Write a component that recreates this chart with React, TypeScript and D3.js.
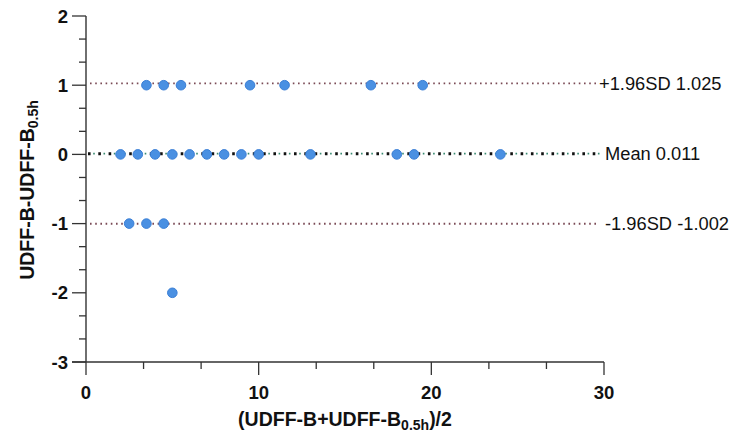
import React from "react";
import * as d3 from "d3";

const upperX = [3.5, 4.5, 5.5, 9.5, 11.5, 16.5, 19.5];
const upperY = [1, 1, 1, 1, 1, 1, 1];
const meanX = [2, 3, 4, 5, 6, 7, 8, 9, 10, 13, 18, 19, 24];
const meanY = [0, 0, 0, 0, 0, 0, 0, 0, 0, 0, 0, 0, 0];
const lowerX = [2.5, 3.5, 4.5, 5];
const lowerY = [-1, -1, -1, -2];

const refValues = [1.025, 0.011, -1.002];
const refLabels = ["+1.96SD 1.025", "Mean 0.011", "-1.96SD -1.002"];
const xTicks = [0, 10, 20, 30];
const yTicks = [2, 1, 0, -1, -2, -3];

const W = 744, H = 438;
const x = d3.scaleLinear().domain([0, 30]).range([86, 604]);
const y = d3.scaleLinear().domain([-3, 2]).range([362, 16]);

const points = [
  ...upperX.map((v, i) => [v, upperY[i]]),
  ...meanX.map((v, i) => [v, meanY[i]]),
  ...lowerX.map((v, i) => [v, lowerY[i]]),
];

export default function App() {
  const xMinor = d3.range(0, 30.01, 10 / 3);
  const yMinor = d3.range(-3, 2.01, 1 / 3);
  const font = "'Liberation Sans', Arial, Helvetica, sans-serif";
  return (
    <svg width={W} height={H} style={{ position: "absolute", left: 0, top: 0, background: "#fff" }} fontFamily={font}>
      {/* reference lines */}
      {refValues.map((v, i) =>
        i === 1 ? (
          <g key={i}>
            <line x1={x(0) + 2} x2={x(30) - 4} y1={y(v)} y2={y(v)} stroke="#3a8a72" strokeWidth={1.6} strokeDasharray="1.6 8.7" strokeDashoffset={-5.2} />
            <line x1={x(0) + 2} x2={x(30) - 4} y1={y(v)} y2={y(v)} stroke="#111" strokeWidth={3} strokeDasharray="2.6 7.7" />
          </g>
        ) : (
          <line key={i} x1={x(0) + 4} x2={x(30) - 6} y1={y(v)} y2={y(v)} stroke="#7a4a55" strokeWidth={1.8} strokeDasharray="1.6 3.6" />
        )
      )}
      {/* points */}
      {points.map((p, i) => (
        <circle key={i} cx={x(p[0])} cy={y(p[1])} r={4.8} fill="#4a90e2" stroke="#3b7fd6" strokeWidth={1} />
      ))}
      {/* axes */}
      <line x1={x(0)} x2={x(0)} y1={y(2)} y2={y(-3)} stroke="#333" strokeWidth={1.4} />
      <line x1={72} x2={x(30)} y1={y(-3)} y2={y(-3)} stroke="#333" strokeWidth={1.4} />
      {yMinor.map((v, i) => {
        const major = Math.abs(v - Math.round(v)) < 1e-6;
        return <line key={i} x1={x(0) - (major ? 14 : 7)} x2={x(0)} y1={y(v)} y2={y(v)} stroke="#333" strokeWidth={1.3} />;
      })}
      {xMinor.map((v, i) => {
        const major = Math.abs(v / 10 - Math.round(v / 10)) < 1e-6;
        return <line key={i} x1={x(v)} x2={x(v)} y1={y(-3)} y2={y(-3) + (major ? 13 : 7)} stroke="#333" strokeWidth={1.3} />;
      })}
      {yTicks.map((v) => (
        <text key={v} x={68} y={y(v) + 6.5} textAnchor="end" fontSize={18.5} fontWeight="bold" fill="#111">{v}</text>
      ))}
      {xTicks.map((v) => (
        <text key={v} x={x(v)} y={399} textAnchor="middle" fontSize={18.5} fontWeight="bold" fill="#111">{v}</text>
      ))}
      {refValues.map((v, i) => (
        <text key={i} x={i === 0 ? 599 : 605} y={y(v) + 6.5} fontSize={18.3} fill="#111">{refLabels[i]}</text>
      ))}
      <text x={345} y={426} textAnchor="middle" fontSize={19.5} fontWeight="bold" fill="#111">
        (UDFF-B+UDFF-B<tspan fontSize={14} dy={4}>0.5h</tspan><tspan dy={-4}>)/2</tspan>
      </text>
      <text transform="translate(34,190) rotate(-90)" textAnchor="middle" fontSize={19.5} fontWeight="bold" fill="#111">
        UDFF-B-UDFF-B<tspan fontSize={14} dy={4}>0.5h</tspan>
      </text>
    </svg>
  );
}
